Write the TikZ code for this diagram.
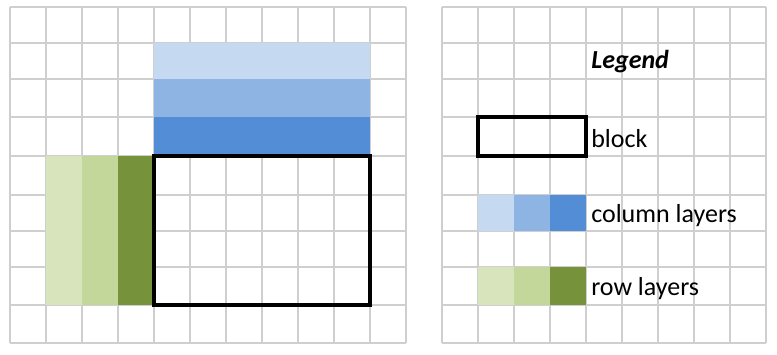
\documentclass[tikz,border=0pt]{standalone}
\usepackage{fontspec}
\setmainfont{Carlito}
\usepackage{xcolor}
\usetikzlibrary{positioning}
\definecolor{gridgray}{HTML}{CFCFCF}
\definecolor{colLight}{HTML}{C5D9F1}
\definecolor{colMid}{HTML}{8DB4E2}
\definecolor{colDark}{HTML}{538DD5}
\definecolor{rowLight}{HTML}{D8E4BC}
\definecolor{rowMid}{HTML}{C4D79B}
\definecolor{rowDark}{HTML}{76933C}

\begin{document}
\begin{tikzpicture}[x=0.75pt,y=-0.75pt,
  gridline/.style={draw=gridgray,line width=0.9pt},
  blockline/.style={draw=black,line width=2.4pt},
  lbl/.style={anchor=base west,inner sep=0pt,font=\fontsize{19.5}{23}\selectfont}]
\useasboundingbox (0,0) rectangle (777,354);
\fill[white] (0,0) rectangle (777,354);
% grid of the sheet
\foreach \x in {10,46,...,406} {
  \draw[gridline] (\x,7) -- (\x,343);
}
\foreach \x in {442,478,...,766} {
  \draw[gridline] (\x,7) -- (\x,343);
}
\foreach \y in {7,43,79,117,156,195,231,267,305,343} {
  \draw[gridline] (10,\y) -- (406,\y);
  \draw[gridline] (442,\y) -- (766,\y);
}

% column layers above the block
\fill[colLight] (154,43) rectangle (370,79);
\fill[colMid] (154,79) rectangle (370,117);
\fill[colDark] (154,117) rectangle (370,156);
% row layers left of the block
\fill[rowLight] (46,156) rectangle (82,305);
\fill[rowMid] (82,156) rectangle (118,305);
\fill[rowDark] (118,156) rectangle (154,305);
% the block
\draw[blockline] (154,156) rectangle (370,305);

% legend
\node[lbl,font=\fontsize{19.5}{23}\selectfont\bfseries\itshape] (legend) at (591,68) {Legend};
\draw[blockline] (478,117) rectangle (586,156);
\node[lbl] (blocktxt) at (591,147) {block};
\fill[colLight] (478,195) rectangle (514,231);
\fill[colMid] (514,195) rectangle (550,231);
\fill[colDark] (550,195) rectangle (586,231);
\node[lbl] (coltxt) at (591,222) {column layers};
\fill[rowLight] (478,267) rectangle (514,305);
\fill[rowMid] (514,267) rectangle (550,305);
\fill[rowDark] (550,267) rectangle (586,305);
\node[lbl] (rowtxt) at (591,295) {row layers};
\end{tikzpicture}
\end{document}
